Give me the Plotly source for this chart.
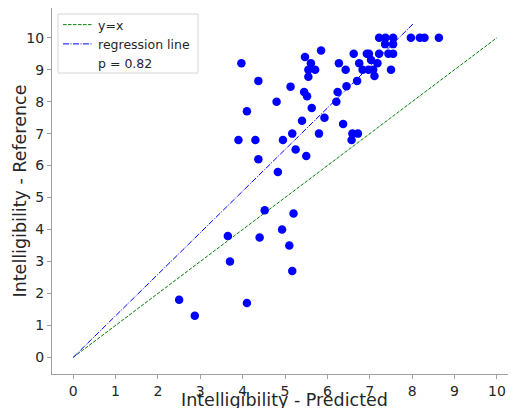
import plotly.graph_objects as go

# Data
pred = [2.5, 2.87, 3.65, 3.7, 4.1, 4.52, 4.4, 4.93, 5.2, 5.1, 5.17, 4.37, 4.83, 5.25, 5.5,
        3.9, 4.3, 4.95, 5.17, 5.8, 6.57, 6.59, 6.72,
        3.97, 4.37, 4.1, 4.8, 5.13, 5.4, 5.45, 5.52, 5.63, 5.93,
        5.47, 5.61, 5.55, 5.71, 5.55, 5.85,
        6.27, 6.43, 6.24, 6.21, 6.45, 6.7, 6.37,
        6.62, 6.75, 6.83, 6.93, 6.98, 7.03, 6.97, 7.08, 7.11, 7.18, 7.22, 7.44, 7.55, 7.5,
        7.22, 7.37, 7.55, 7.36, 7.55, 7.97, 8.18, 8.29, 8.63]
ref = [1.8, 1.3, 3.8, 3.0, 1.7, 4.6, 3.75, 4.0, 4.5, 3.5, 2.7, 6.2, 5.8, 6.5, 6.3,
       6.8, 6.8, 6.8, 7.0, 7.0, 6.8, 7.0, 7.0,
       9.2, 8.65, 7.7, 8.0, 8.47, 7.4, 8.3, 8.17, 7.8, 7.5,
       9.4, 9.2, 9.0, 9.0, 8.78, 9.6,
       9.2, 9.0, 8.3, 8.0, 8.48, 8.65, 7.3,
       9.5, 9.2, 9.0, 9.5, 9.5, 9.3, 9.0, 9.0, 8.8, 9.2, 9.5, 9.5, 9.5, 9.0,
       10.0, 10.0, 10.0, 9.8, 9.8, 10.0, 10.0, 10.0, 10.0]

identity_x = [0, 10]
identity_y = [0, 10]
regression_x = [0, 8.02]
regression_y = [0, 10.43]
p_value_label = "p = 0.82"

x_ticks = list(range(0, 11))
y_ticks = list(range(0, 11))

FONT = "DejaVu Sans"
TXT = "#262626"
SPINE = "#a0a0a0"

fig = go.Figure()
fig.add_trace(go.Scatter(
    x=identity_x, y=identity_y, mode="lines", name="y=x",
    line=dict(color="#008000", width=1, dash="3.5px,1.5px"),
))
fig.add_trace(go.Scatter(
    x=regression_x, y=regression_y, mode="lines", name="regression line",
    line=dict(color="#0000ff", width=1, dash="6px,1.5px,1px,1.5px"),
))
fig.add_trace(go.Scatter(
    x=[None], y=[None], mode="lines", name=p_value_label,
    line=dict(color="rgba(0,0,0,0)", width=0),
))
fig.add_trace(go.Scatter(
    x=pred, y=ref, mode="markers", showlegend=False,
    marker=dict(color="#0000ff", size=8.5, line=dict(width=0)),
))

# The page adds an 8px body margin, so the figure is sized to fit the window
fig.update_layout(
    width=508, height=400,
    margin=dict(l=44, r=0, t=0, b=34),
    paper_bgcolor="white", plot_bgcolor="white",
    font=dict(family=FONT, color=TXT, size=14),
    showlegend=True,
    legend=dict(
        x=0.013, y=0.9945, xanchor="left", yanchor="top",
        bgcolor="rgba(0,0,0,0)", bordercolor="rgba(0,0,0,0)", borderwidth=0,
        font=dict(family=FONT, size=12.5, color=TXT),
        tracegroupgap=0, itemwidth=30,
    ),
    shapes=[
        dict(type="rect", xref="paper", yref="paper",
             x0=0.0129, x1=0.3147, y0=0.8224, y1=0.9836,
             line=dict(color="#d6d6d6", width=1),
             fillcolor="rgba(255,255,255,0.8)", layer="below"),
    ],
    xaxis=dict(
        range=[-0.5, 10.45], tickmode="array", tickvals=x_ticks,
        showgrid=False, zeroline=False,
        showline=True, linecolor=SPINE, linewidth=1, mirror=True,
        ticks="outside", ticklen=4, tickcolor=SPINE,
        tickfont=dict(size=14, family=FONT, color=TXT),
    ),
    yaxis=dict(
        range=[-0.52, 10.93], tickmode="array", tickvals=y_ticks,
        showgrid=False, zeroline=False,
        showline=True, linecolor=SPINE, linewidth=1,
        ticks="outside", ticklen=4, tickcolor=SPINE,
        tickfont=dict(size=14, family=FONT, color=TXT),
    ),
    annotations=[
        dict(text="Intelligibility - Predicted", xref="paper", yref="paper",
             x=0.5, y=-26 / 366, xanchor="center", yanchor="middle", showarrow=False,
             font=dict(size=17.5, family=FONT, color=TXT)),
        dict(text="Intelligibility - Reference", xref="paper", yref="paper",
             x=-32.5 / 464, y=0.5, xanchor="center", yanchor="middle", showarrow=False,
             textangle=-90, font=dict(size=17.5, family=FONT, color=TXT)),
    ],
)

fig.write_html("out.html")
